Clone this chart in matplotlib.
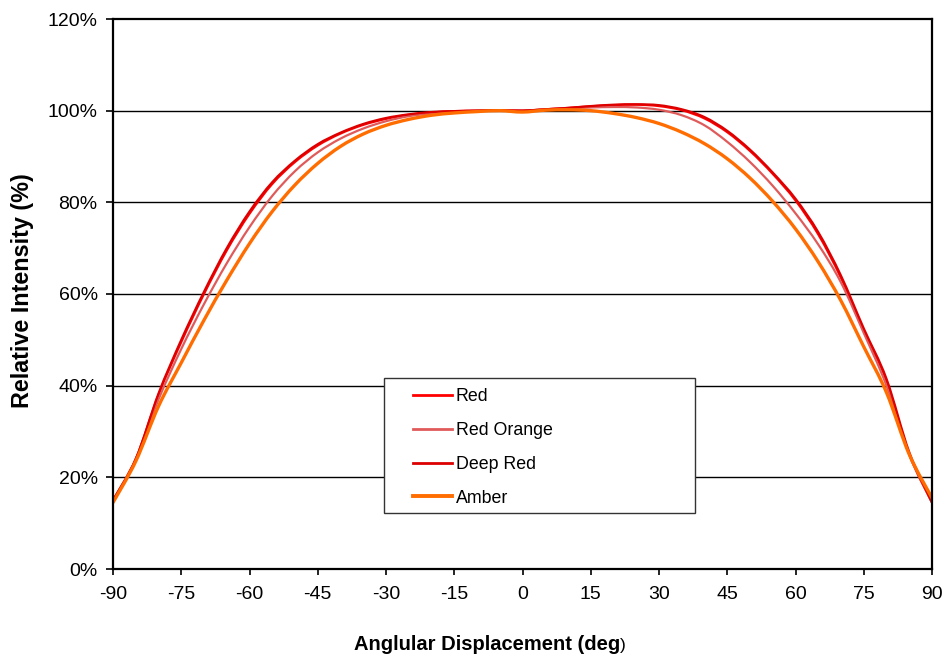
import matplotlib
matplotlib.use("Agg")
import matplotlib.pyplot as plt
from matplotlib.patches import Rectangle, PathPatch
from matplotlib.path import Path
from matplotlib.lines import Line2D
from matplotlib.ticker import FuncFormatter

plt.rcParams['font.family'] = ['Liberation Sans', 'DejaVu Sans']
plt.rcParams['axes.unicode_minus'] = False

angles = [-90, -85, -80, -75, -70, -65, -60, -55, -50, -45, -40, -35, -30, -25, -20,
          -15, -10, -5, 0, 5, 10, 15, 20, 25, 30, 35, 40, 45, 50, 55, 60, 65, 70, 75,
          80, 85, 90]

red = [15, 24, 38, 49.5, 60, 69.5, 77.5, 84, 88.8, 92.4, 95, 96.9, 98.2, 99.1, 99.6,
       99.9, 100, 100.1, 100, 100.3, 100.6, 100.95, 101.2, 101.3, 101, 100.1, 98.3, 95.3,
       91.2, 86.2, 80.4, 73, 63.5, 52, 41, 25, 14.5]

red_orange = [15, 24, 37, 48, 57.8, 66.7, 74.6, 81.4, 86.8, 90.9, 93.9, 96.1, 97.7, 98.8, 99.4,
              99.8, 100, 100, 100, 100.3, 100.5, 100.7, 100.8, 100.7, 100.2, 99, 96.8, 93.2,
              88.8, 83.6, 77.6, 70.8, 62.5, 51.5, 40, 25, 14.5]

deep_red = [15, 24, 38.3, 50, 60.5, 70, 78, 84.4, 89.1, 92.7, 95.2, 97.1, 98.4, 99.2, 99.7,
            99.9, 100, 100.1, 100, 100.3, 100.6, 101, 101.3, 101.4, 101.2, 100.3, 98.6, 95.6,
            91.5, 86.5, 80.8, 73.5, 64, 52.5, 41.5, 25.5, 14.5]

amber = [14.5, 23.5, 35.5, 45, 54.3, 63, 71, 78, 83.8, 88.5, 92.2, 94.9, 96.8, 98.1, 99,
         99.5, 99.8, 100, 99.7, 100.1, 100.2, 100, 99.4, 98.5, 97.2, 95.3, 92.8, 89.5,
         85.3, 80.2, 74.2, 67, 58.5, 48.5, 38.5, 25, 15.5]

series = [
    ("Red", red, "#FF0000", 1.6),
    ("Red Orange", red_orange, "#E05A5A", 1.6),
    ("Deep Red", deep_red, "#DD0000", 1.6),
    ("Amber", amber, "#FF6D00", 2.4),
]

x_ticks = [-90, -75, -60, -45, -30, -15, 0, 15, 30, 45, 60, 75, 90]
y_ticks = [0, 20, 40, 60, 80, 100, 120]


def smooth_path(xs, ys):
    """Catmull-Rom style smoothing (like spreadsheet 'smoothed line') as cubic Beziers."""
    pts = list(zip(xs, ys))
    n = len(pts)
    verts = [pts[0]]
    codes = [Path.MOVETO]
    for i in range(n - 1):
        p0 = pts[i - 1] if i > 0 else pts[i]
        p1 = pts[i]
        p2 = pts[i + 1]
        p3 = pts[i + 2] if i + 2 < n else pts[i + 1]
        c1 = (p1[0] + (p2[0] - p0[0]) / 6.0, p1[1] + (p2[1] - p0[1]) / 6.0)
        c2 = (p2[0] - (p3[0] - p1[0]) / 6.0, p2[1] - (p3[1] - p1[1]) / 6.0)
        verts += [c1, c2, p2]
        codes += [Path.CURVE4] * 3
    return Path(verts, codes)


fig = plt.figure(figsize=(9.43, 6.56), dpi=100)
W, H = 943, 656
ax = fig.add_axes([113 / W, 1 - 569 / H, (932 - 113) / W, (569 - 19) / H])

for y in y_ticks[1:-1]:
    ax.axhline(y, color="black", lw=1.0, zorder=1)

handles = []
for name, vals, col, lw in series:
    patch = PathPatch(smooth_path(angles, vals), facecolor="none", edgecolor=col, lw=lw,
                      zorder=3, joinstyle="round", capstyle="round")
    ax.add_patch(patch)
    handles.append(Line2D([], [], color=col, lw=lw + 0.4, label=name))

ax.set_xlim(-90, 90)
ax.set_ylim(0, 120)
ax.set_xticks(x_ticks)
ax.set_yticks(y_ticks)
ax.yaxis.set_major_formatter(FuncFormatter(lambda v, p: f"{int(v)}%"))
ax.tick_params(axis="y", direction="out", length=5, width=1.2, labelsize=14, pad=6)
ax.tick_params(axis="x", direction="out", length=4, width=1.2, labelsize=14, pad=8)
for s in ax.spines.values():
    s.set_linewidth(1.6)
    s.set_color("black")
    s.set_zorder(5)

# legend frame
rect = Rectangle(((384 - 113) / 819, (569 - 513) / 550), (695 - 384) / 819, (513 - 378) / 550,
                 transform=ax.transAxes, facecolor="white", edgecolor="#333333", lw=1.0, zorder=4)
ax.add_patch(rect)
leg = ax.legend(handles=handles, loc="upper left",
                bbox_to_anchor=(413 / W, 1 - 388 / H), bbox_transform=fig.transFigure,
                frameon=False, fontsize=12.8, handlelength=2.2, handletextpad=0.2,
                labelspacing=0.95, borderpad=0, borderaxespad=0)
leg.set_zorder(6)

fig.text(620 / W, 1 - 650 / H, "Anglular Displacement (deg", ha="right", va="baseline",
         fontsize=14.5, fontweight="bold")
fig.text(620 / W, 1 - 650 / H, ")", ha="left", va="baseline", fontsize=12.5)
fig.text(23 / W, 1 - 291 / H, "Relative Intensity (%)", ha="center", va="center",
         rotation=90, fontsize=16.8, fontweight="bold")

fig.savefig("out.png", dpi=100)
